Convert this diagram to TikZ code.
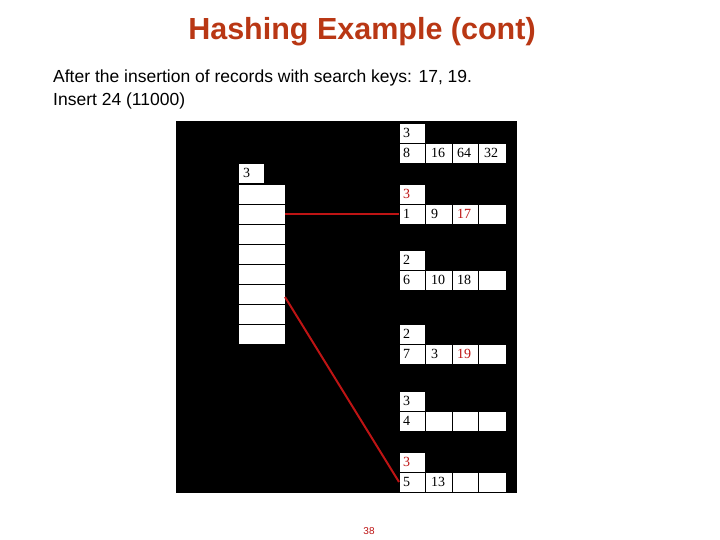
\documentclass[tikz,border=0pt]{standalone}
\usepackage{fontspec}
\setmainfont{Liberation Sans}
\newfontfamily\tnr{Liberation Serif}
\definecolor{ttl}{RGB}{185,55,20}
\definecolor{rd}{RGB}{190,20,20}
\begin{document}
\begin{tikzpicture}[x=1pt,y=-1pt,
  cell/.style={draw=black,fill=white,line width=0.6pt},
  ctext/.style={font=\tnr\fontsize{14}{14}\selectfont,anchor=west,inner sep=0pt},
  link/.style={draw=rd,line width=2pt}]
\useasboundingbox (0,0) rectangle (720,540);
\fill[white] (0,0) rectangle (720,540);
\node[font=\bfseries\fontsize{30.5}{30}\selectfont,text=ttl] (title) at (362,32) {Hashing Example (cont)};
\node[anchor=west,font=\fontsize{17.5}{18}\selectfont,inner sep=0pt] (l1) at (53,78) {After the insertion of records with search keys: 17, 19.};
\node[anchor=west,font=\fontsize{17.5}{18}\selectfont,inner sep=0pt] (l2) at (53,101) {Insert 24 (11000)};
\node[font=\fontsize{10}{10}\selectfont,text=rd] (pg) at (369,531) {38};
\fill[black] (176,121) rectangle (517,493);
% directory
\draw[cell] (238,163) rectangle (264,183);
\node[ctext] (dg) at (243,173) {3};
\foreach \i in {0,...,7}{
  \draw[cell] (238,{184+20*\i}) rectangle (285,{204+20*\i});
  \coordinate (d\i) at (285,{194+20*\i});
}
% buckets
\foreach \n/\y/\h/\hc/\a/\b/\c/\d/\cc in {
  b0/123/3/black/8/16/64/32/black,
  b1/184/3/rd/1/9/17//rd,
  b2/250/2/black/6/10/18//black,
  b3/324/2/black/7/3/19//rd,
  b4/391/3/black/4////black,
  b5/452/3/rd/5/13///black}{
  \draw[cell] (399,\y) rectangle (425,\y+20);
  \node[ctext,text=\hc] at (403,\y+10) {\h};
  \draw[cell] (399,\y+20) rectangle (425,\y+40);
  \draw[cell] (425,\y+20) rectangle (452,\y+40);
  \draw[cell] (452,\y+20) rectangle (478,\y+40);
  \draw[cell] (478,\y+20) rectangle (506,\y+40);
  \coordinate (\n) at (399,\y+30);
  \node[ctext] at (403,\y+30) {\a};
  \node[ctext] at (431,\y+30) {\b};
  \node[ctext,text=\cc] at (457,\y+30) {\c};
  \node[ctext] at (484,\y+30) {\d};
}
\draw[link] (d1) -- (b1);
\draw[link] (285,297) -- (b5);
\end{tikzpicture}
\end{document}
